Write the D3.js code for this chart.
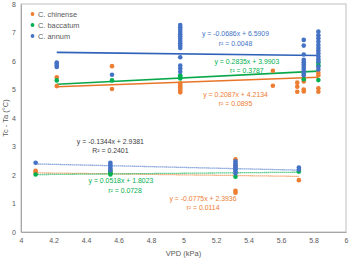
<!DOCTYPE html>
<html>
<head>
<meta charset="utf-8">
<script src="https://cdn.jsdelivr.net/npm/d3@7"></script>
<style>
  body { margin: 0; background: #fff; }
  text { font-family: "Liberation Sans", Arial, sans-serif; }
</style>
</head>
<body>
<svg id="chart" width="350" height="259"></svg>
<script>
// species names, in legend order
var species = ["C. chinense", "C. baccatum", "C. annum"];
var colors = ["#ED7D31", "#00B050", "#4472C4"];

// upper cluster: x (VPD) and y (Tc - Ta) per species
var chinenseUpX = [4.22, 4.22, 4.56, 4.56, 4.98, 4.98, 4.98, 4.98, 4.98, 4.98, 5.55, 5.55, 5.70, 5.70, 5.70, 5.74, 5.74, 5.74, 5.83, 5.83, 5.83, 5.83];
var chinenseUpY = [5.43, 5.12, 5.82, 5.02, 5.22, 5.15, 5.08, 5.02, 4.96, 4.90, 5.66, 5.13, 5.24, 5.10, 4.92, 5.28, 5.00, 4.93, 5.59, 5.50, 5.04, 4.92];
var baccatumUpX = [4.22, 4.56, 4.98, 4.98, 4.98, 5.74, 5.83, 5.83, 5.83];
var baccatumUpY = [5.32, 5.32, 5.50, 5.45, 5.39, 5.36, 5.94, 5.85, 5.33];
var annumUpX = [4.22, 4.22, 4.22, 4.22, 4.56,
  4.98, 4.98, 4.98, 4.98, 4.98, 4.98, 4.98, 4.98, 4.98, 4.98, 4.98, 4.98, 4.98, 4.98, 4.98,
  5.74, 5.74, 5.74, 5.74, 5.74, 5.74, 5.74, 5.74, 5.74, 5.74, 5.74,
  5.83, 5.83, 5.83, 5.83, 5.83, 5.83, 5.83, 5.83, 5.83, 5.83, 5.83, 5.83, 5.83];
var annumUpY = [5.95, 5.90, 5.84, 5.79, 5.52,
  7.26, 7.18, 7.10, 7.02, 6.94, 6.86, 6.78, 6.70, 6.62, 6.54, 6.46, 6.13, 5.84, 5.74, 5.62,
  6.74, 6.54, 6.23, 6.04, 5.96, 5.88, 5.80, 5.72, 5.64, 5.56, 5.50,
  7.03, 6.90, 6.80, 6.68, 6.56, 6.46, 6.36, 6.26, 6.16, 6.06, 5.98, 5.80, 5.70];

// lower cluster
var chinenseLowX = [4.09, 4.09, 4.55, 5.32, 5.32, 5.32, 5.32, 5.71];
var chinenseLowY = [2.15, 2.10, 2.10, 2.55, 2.33, 1.45, 1.38, 1.82];
var baccatumLowX = [4.09, 4.55, 4.55, 4.55, 5.32, 5.71];
var baccatumLowY = [2.02, 2.12, 2.06, 2.02, 1.94, 2.12];
var annumLowX = [4.09, 4.55, 4.55, 4.55, 4.55, 4.55, 5.32, 5.32, 5.32, 5.32, 5.32, 5.32, 5.32, 5.71, 5.71];
var annumLowY = [2.43, 2.43, 2.36, 2.29, 2.22, 2.17, 2.48, 2.41, 2.34, 2.27, 2.20, 2.13, 2.06, 2.26, 2.19];

// trend lines: slope, intercept (chinense, baccatum, annum)
var upSlope = [0.2087, 0.2835, -0.0686];
var upIntercept = [4.2134, 3.9903, 6.5909];
var lowSlope = [-0.0775, 0.0518, -0.1344];
var lowIntercept = [2.3936, 1.8023, 2.9381];

// equation labels
var upEq = ["y = 0.2087x + 4.2134", "y = 0.2835x + 3.9903", "y = -0.0686x + 6.5909"];
var upR2 = ["r\u00B2 = 0.0895", "r\u00B2 = 0.3787", "r\u00B2 = 0.0048"];
var lowEq = ["y = -0.0775x + 2.3936", "y = 0.0518x + 1.8023", "y = -0.1344x + 2.9381"];
var lowR2 = ["r\u00B2 = 0.0114", "r\u00B2 = 0.0728", "R\u00B2 = 0.2401"];

var xTicks = [4, 4.2, 4.4, 4.6, 4.8, 5, 5.2, 5.4, 5.6, 5.8, 6];
var yTicks = [0, 1, 2, 3, 4, 5, 6, 7, 8];

var svg = d3.select("#chart");
var plotLeft = 21, plotRight = 346, plotTop = 4, plotBottom = 232;

var x = d3.scaleLinear().domain([4, 6]).range([plotLeft, plotRight]);
var y = d3.scaleLinear().domain([0, 8]).range([plotBottom, plotTop]);

// plot frame
svg.append("rect")
  .attr("x", plotLeft).attr("y", plotTop)
  .attr("width", plotRight - plotLeft).attr("height", plotBottom - plotTop)
  .attr("fill", "none").attr("stroke", "#BFBFBF").attr("stroke-width", 1);

// axes (labels only)
var xAxis = d3.axisBottom(x).tickValues(xTicks).tickSize(0).tickPadding(6)
  .tickFormat(function(d) { return d3.format("~g")(d); });
var gx = svg.append("g").attr("transform", "translate(0," + plotBottom + ")").call(xAxis);
gx.select(".domain").attr("stroke", "#A6A6A6");
gx.selectAll("text").attr("font-size", "7px").attr("fill", "#595959")
  .attr("font-family", "Liberation Sans, Arial, sans-serif");

var yAxis = d3.axisLeft(y).tickValues(yTicks).tickSize(0).tickPadding(5);
var gy = svg.append("g").attr("transform", "translate(" + plotLeft + ",0)").call(yAxis);
gy.select(".domain").attr("stroke", "#A6A6A6");
gy.selectAll("text").attr("font-size", "7px").attr("fill", "#595959")
  .attr("font-family", "Liberation Sans, Arial, sans-serif");

// axis titles
svg.append("text").attr("x", x(5)).attr("y", 256)
  .attr("text-anchor", "middle").attr("font-size", "7.5px").attr("fill", "#595959")
  .text("VPD (kPa)");
svg.append("text").attr("transform", "translate(7.5," + ((plotTop + plotBottom) / 2) + ") rotate(-90)")
  .attr("text-anchor", "middle").attr("font-size", "7.5px").attr("fill", "#595959")
  .text("Tc - Ta (\u00B0C)");

function zip(xs, ys) {
  return xs.map(function(v, i) { return [v, ys[i]]; });
}

var upPoints = [zip(chinenseUpX, chinenseUpY), zip(baccatumUpX, baccatumUpY), zip(annumUpX, annumUpY)];
var lowPoints = [zip(chinenseLowX, chinenseLowY), zip(baccatumLowX, baccatumLowY), zip(annumLowX, annumLowY)];

// trend lines span each series' x range
function trend(pts, m, b, dotted, color) {
  var ext = d3.extent(pts, function(d) { return d[0]; });
  svg.append("line")
    .attr("x1", x(ext[0])).attr("y1", y(m * ext[0] + b))
    .attr("x2", x(ext[1])).attr("y2", y(m * ext[1] + b))
    .attr("stroke", color)
    .attr("stroke-width", dotted ? 1.3 : 1.6)
    .attr("stroke-dasharray", dotted ? "1,1" : null);
}

var lineDark = ["#E87528", "#0AA84A", "#2F62B8"];
for (var i = 0; i < 3; i++) {
  trend(upPoints[i], upSlope[i], upIntercept[i], false, lineDark[i]);
  trend(lowPoints[i], lowSlope[i], lowIntercept[i], true, colors[i]);
}

// points
for (var j = 0; j < 3; j++) {
  svg.selectAll(".pt" + j).data(upPoints[j].concat(lowPoints[j])).enter()
    .append("circle")
    .attr("class", "pt" + j)
    .attr("cx", function(d) { return x(d[0]); })
    .attr("cy", function(d) { return y(d[1]); })
    .attr("r", 2.3)
    .attr("fill", colors[j]);
}

// equation label anchors (data units): [x, yEq, yR2]
var upLabelPos = [[5.32, 4.83, 4.52], [5.39, 5.98, 5.66], [5.32, 6.95, 6.62]];
var lowLabelPos = [[5.12, 1.16, 0.84], [4.615, 1.79, 1.47], [4.55, 3.16, 2.84]];
var textColors = ["#ED7D31", "#00B050", "#4472C4"];
var lowTextColors = ["#ED7D31", "#00B050", "#404040"];

function label(str, px, py, color) {
  svg.append("text").attr("x", x(px)).attr("y", y(py)).attr("dy", "0.35em")
    .attr("text-anchor", "middle").attr("font-size", "6.9px").attr("fill", color)
    .text(str);
}

for (var k = 0; k < 3; k++) {
  label(upEq[k], upLabelPos[k][0], upLabelPos[k][1], textColors[k]);
  label(upR2[k], upLabelPos[k][0], upLabelPos[k][2], textColors[k]);
  label(lowEq[k], lowLabelPos[k][0], lowLabelPos[k][1], lowTextColors[k]);
  label(lowR2[k], lowLabelPos[k][0] + (k == 1 ? 0.025 : 0), lowLabelPos[k][2], lowTextColors[k]);
}

// legend
var legend = svg.append("g");
species.forEach(function(name, i) {
  var ly = 14 + i * 11;
  legend.append("circle").attr("cx", 32.5).attr("cy", ly).attr("r", 1.9).attr("fill", colors[i]);
  legend.append("text").attr("x", 38).attr("y", ly).attr("dy", "0.35em")
    .attr("font-size", "7.4px").attr("fill", "#595959").text(name);
});
</script>
</body>
</html>
